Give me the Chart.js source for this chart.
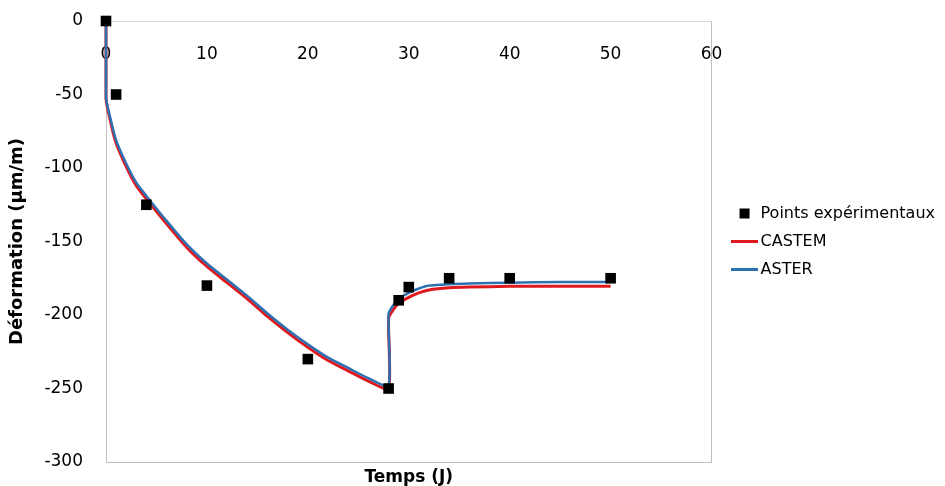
<!DOCTYPE html>
<html>
<head>
<meta charset="utf-8">
<script src="https://cdn.jsdelivr.net/npm/chart.js@4"></script>
<style>
  html, body { margin: 0; padding: 0; background: #fff; }
  #wrap { width: 945px; height: 486px; }
</style>
</head>
<body>
<div id="wrap"><canvas id="deformChart"></canvas></div>
<script>
// measured points
const expTimes = [0, 1, 4, 10, 20, 28, 29, 30, 34, 40, 50];
const expValues = [0, -50, -125, -180, -230, -250, -190, -181, -175, -175, -175];

// simulation curves
const simTimes = [0, 0, 0.5, 1, 2, 3, 4, 6, 8, 10, 12, 14, 16, 18, 20, 22, 24, 26, 28,
                  28, 28.5, 29, 30, 31, 32, 34, 36, 40, 45, 50];
const castemValues = [0, -53, -70, -83, -99, -112, -121, -138, -154, -167, -178, -189, -201, -212, -222,
                      -231, -238, -245, -250, -202, -196, -192, -188, -185, -183, -181.5, -181, -180.5, -180.5, -180.5];
const asterValues = [0, -52, -68, -81, -97, -110, -119, -136, -152, -165, -176, -187, -199, -210, -220,
                     -229, -236, -243, -248, -199, -193, -189, -185, -182, -180, -179, -178.5, -178, -177.5, -177.5];

const xTickValues = [0, 10, 20, 30, 40, 50, 60];
const yTickValues = [-300, -250, -200, -150, -100, -50, 0];

const RED = "#e0191f";
const BLUE = "#2e71b1";
const FRAME = "#bfbfbf";

Chart.defaults.font.family = "'DejaVu Sans', sans-serif";
Chart.defaults.color = "#000";

function pairs(xs, ys) {
    return xs.map((x, i) => ({ x, y: ys[i] }));
}

// small line swatch for the legend
function lineSwatch(color, h) {
    const c = document.createElement("canvas");
    c.width = 27;
    c.height = h;
    const g = c.getContext("2d");
    g.fillStyle = color;
    g.fillRect(0, 0, 27, h);
    return c;
}

const setTicks = values => scale => {
    scale.ticks = values.map(v => ({ value: v }));
};

const noGrid = { display: false, drawTicks: false, tickLength: 0 };

new Chart(document.getElementById("deformChart"), {
    type: "scatter",
    data: {
        datasets: [
            {
                label: "Points expérimentaux",
                data: pairs(expTimes, expValues),
                pointStyle: "rect",
                pointRadius: 7.5,
                pointHoverRadius: 7.5,
                backgroundColor: "#000",
                borderWidth: 0,
                showLine: false,
                order: 0,
                clip: false
            },
            {
                label: "CASTEM",
                data: pairs(simTimes, castemValues),
                showLine: true,
                borderColor: RED,
                backgroundColor: RED,
                borderWidth: 3,
                pointRadius: 0,
                pointStyle: lineSwatch(RED, 3),
                tension: 0.2,
                order: 2,
                clip: false
            },
            {
                label: "ASTER",
                data: pairs(simTimes, asterValues),
                showLine: true,
                borderColor: BLUE,
                backgroundColor: BLUE,
                borderWidth: 2.5,
                pointRadius: 0,
                pointStyle: lineSwatch(BLUE, 3),
                tension: 0.2,
                order: 1,
                clip: false
            }
        ]
    },
    options: {
        responsive: true,
        maintainAspectRatio: false,
        animation: false,
        layout: { autoPadding: false, padding: { top: 21, left: 0, right: 0, bottom: 0 } },
        plugins: {
            tooltip: { enabled: false },
            legend: {
                position: "right",
                fullSize: false,
                maxWidth: 300,
                labels: {
                    usePointStyle: true,
                    boxHeight: 10,
                    padding: 12,
                    font: { size: 16 },
                    color: "#000",
                    sort: (a, b) => a.datasetIndex - b.datasetIndex
                }
            }
        },
        scales: {
            x: {
                type: "linear",
                axis: "x",
                position: { y: 0 },
                min: 0,
                max: 60,
                afterBuildTicks: setTicks(xTickValues),
                afterFit: s => { s.height = 0; },
                grid: noGrid,
                border: { display: true, color: "#d9d9d9", width: 1 },
                ticks: { padding: 23, font: { size: 17 }, maxRotation: 0 }
            },
            y: {
                type: "linear",
                position: "left",
                min: -300,
                max: 0,
                afterBuildTicks: setTicks(yTickValues),
                afterFit: s => {
                    s.width = 106;
                    s.paddingTop = 0;
                    s.paddingBottom = 0;
                },
                grid: noGrid,
                border: { display: true, color: FRAME, width: 1 },
                ticks: { padding: 23, font: { size: 17 } },
                title: {
                    display: true,
                    text: "Déformation (µm/m)",
                    font: { size: 18, weight: "bold" },
                    padding: { top: 7, bottom: 0 }
                }
            },
            x2: {
                type: "linear",
                axis: "x",
                position: "bottom",
                min: 0,
                max: 60,
                afterFit: s => { s.height = 24; },
                grid: noGrid,
                border: { display: true, color: FRAME, width: 1 },
                ticks: { display: false },
                title: {
                    display: true,
                    text: "Temps (J)",
                    font: { size: 17, weight: "bold" },
                    padding: { top: 0, bottom: -2 }
                }
            },
            y2: {
                type: "linear",
                axis: "y",
                position: "right",
                min: -300,
                max: 0,
                afterFit: s => { s.width = 13; },
                grid: noGrid,
                border: { display: true, color: FRAME, width: 1 },
                ticks: { display: false }
            }
        }
    }
});
</script>
</body>
</html>
